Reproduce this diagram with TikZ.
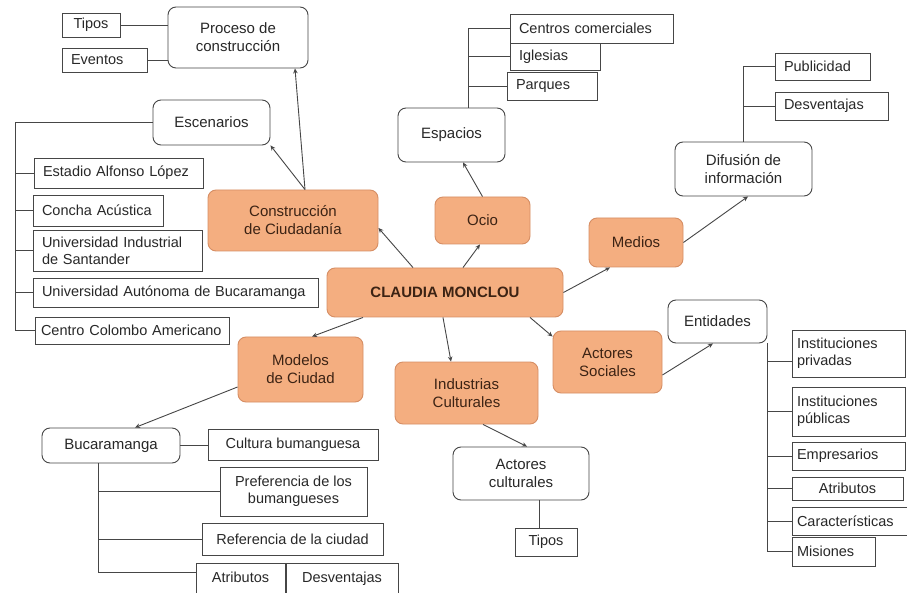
\documentclass[tikz,border=0pt]{standalone}
\usepackage{fontspec}
\setmainfont{Liberation Sans}
\usetikzlibrary{arrows.meta}
\definecolor{orfill}{RGB}{244,174,128}
\definecolor{ordraw}{RGB}{214,142,100}
\definecolor{ortext}{RGB}{60,35,20}
\definecolor{linec}{RGB}{70,70,70}
\definecolor{txt}{RGB}{40,40,40}
\tikzset{
  base/.style={draw=linec, line width=0.9pt, align=center, inner sep=0pt, text=txt},
  rbox/.style={base, rounded corners=8pt, font=\fontsize{15}{18}\selectfont},
  obox/.style={rbox, fill=orfill, draw=ordraw, text=ortext},
  sbox/.style={base, font=\fontsize{14.5}{16.8}\selectfont},
  lbox/.style={sbox, inner xsep=9pt, align=left},
  rlbox/.style={sbox, inner xsep=5pt, align=left},
  conn/.style={draw=linec, line width=0.9pt},
  arr/.style={conn, -{Stealth[length=5pt,width=4.5pt]}},
}
\begin{document}
\begin{tikzpicture}[x=1pt,y=-1pt]
\useasboundingbox (0,0) rectangle (907,593);
\clip (0,0) rectangle (907,593);
\fill[white] (0,0) rectangle (907,593);

% central
\node[obox, minimum width=236pt, minimum height=49pt, font=\fontsize{15}{18}\selectfont\bfseries] (claudia) at (445,292.5) {CLAUDIA MONCLOU};
\node[obox, minimum width=170pt, minimum height=61pt] (construccion) at (293,220.5) {Construcción\\de Ciudadanía};
\node[obox, minimum width=95pt, minimum height=47pt] (ocio) at (482.5,220.5) {Ocio};
\node[obox, minimum width=94pt, minimum height=49pt] (medios) at (636,242.5) {Medios};
\node[obox, minimum width=125pt, minimum height=65pt] (modelos) at (300.5,369.5) {Modelos\\de Ciudad};
\node[obox, minimum width=143pt, minimum height=62pt] (industrias) at (466.5,393) {Industrias\\Culturales};
\node[obox, minimum width=109pt, minimum height=62pt] (actsoc) at (607.5,362) {Actores\\Sociales};

% construccion branch
\node[rbox, minimum width=140pt, minimum height=61pt] (proceso) at (238,37.5) {Proceso de\\construcción};
\node[sbox, minimum width=58pt, minimum height=24pt] (tipos1) at (91,25) {Tipos};
\node[lbox, text width=67pt, minimum height=24pt] (eventos) at (104.5,60) {Eventos};
\node[rbox, minimum width=117pt, minimum height=45pt] (escenarios) at (211.5,122.5) {Escenarios};
\node[lbox, text width=151pt, minimum height=30pt] (estadio) at (118.5,173) {Estadio Alfonso López};
\node[lbox, text width=112pt, minimum height=31pt] (concha) at (98,210.5) {Concha Acústica};
\node[lbox, text width=151pt, minimum height=41pt] (uis) at (117.5,250.5) {Universidad Industrial\\de Santander};
\node[lbox, text width=267pt, minimum height=29pt] (unab) at (175.5,292.5) {Universidad Autónoma de Bucaramanga};
\node[lbox, inner xsep=6pt, text width=182pt, minimum height=27pt] (cca) at (132,330.5) {Centro Colombo Americano};

% ocio branch
\node[rbox, minimum width=107pt, minimum height=54pt] (espacios) at (451.5,135) {Espacios};
\node[lbox, text width=145pt, minimum height=29pt] (centros) at (591.5,28.5) {Centros comerciales};
\node[lbox, text width=72pt, minimum height=27pt] (iglesias) at (555,56.5) {Iglesias};
\node[lbox, text width=72pt, minimum height=28pt] (parques) at (552,86) {Parques};

% medios branch
\node[rbox, minimum width=137pt, minimum height=54pt] (difusion) at (743.5,169) {Difusión de\\información};
\node[lbox, text width=77pt, minimum height=27pt] (publicidad) at (822.5,66.5) {Publicidad};
\node[lbox, text width=95pt, minimum height=28pt] (desv1) at (831.5,106) {Desventajas};

% modelos branch
\node[rbox, minimum width=138pt, minimum height=35pt] (bucaramanga) at (111,445.5) {Bucaramanga};
\node[sbox, minimum width=170pt, minimum height=31pt] (cultura) at (293,444.5) {Cultura bumanguesa};
\node[sbox, minimum width=147pt, minimum height=49pt] (preferencia) at (293.5,491.5) {Preferencia de los\\bumangueses};
\node[sbox, minimum width=181pt, minimum height=32pt] (referencia) at (292.5,539) {Referencia de la ciudad};
\node[sbox, minimum width=89pt, text height=14pt, text depth=25pt, inner ysep=5pt, anchor=base] (atributos1) at (240.5,582) {Atributos};
\node[sbox, minimum width=112pt, text height=14pt, text depth=25pt, inner ysep=5pt, anchor=base] (desv2) at (342,582) {Desventajas};

% industrias branch
\node[rbox, minimum width=136pt, minimum height=53pt] (actcult) at (521,473.5) {Actores\\culturales};
\node[sbox, minimum width=62pt, minimum height=28pt] (tipos2) at (546,542) {Tipos};

% actores sociales branch
\node[rbox, minimum width=99pt, minimum height=43pt] (entidades) at (717.5,321.5) {Entidades};
\node[rlbox, text width=103pt, minimum height=47pt] (instpriv) at (848.5,353.5) {Instituciones\\privadas};
\node[rlbox, text width=103pt, minimum height=49pt] (instpub) at (848.5,411.5) {Instituciones\\públicas};
\node[rlbox, text width=103pt, minimum height=28pt] (empresarios) at (848.5,456) {Empresarios};
\node[sbox, minimum width=111pt, minimum height=23pt] (atributos2) at (847.5,488.5) {Atributos};
\node[rlbox, text width=105pt, minimum height=28pt] (caract) at (849.5,521) {Características};
\node[rlbox, text width=73pt, minimum height=29pt] (misiones) at (833.5,551.5) {Misiones};

% trunk coordinates
\coordinate (escT) at (15,122.5);
\coordinate (espT) at ([xshift=16.5pt]espacios.north);
\coordinate (bucT) at ([xshift=-13pt]bucaramanga.south);

% plain connectors
\draw[conn] (tipos1.east) -- (tipos1.east -| proceso.west);
\draw[conn] (eventos.east) -- (eventos.east -| proceso.west);
\draw[conn] (escenarios.west) -- (escT) |- (cca.west);
\foreach \n in {estadio,concha,uis,unab} \draw[conn] (\n.west) -- (\n.west -| escT);
\draw[conn] (centros.west) -| (espT);
\draw[conn] (iglesias.west) -- (iglesias.west -| espT);
\draw[conn] (parques.west) -- (parques.west -| espT);
\draw[conn] (publicidad.west) -| (difusion.north);
\draw[conn] (desv1.west) -- (desv1.west -| difusion.north);
\draw[conn] (bucaramanga.east) -- (bucaramanga.east -| cultura.west);
\draw[conn] (bucT) |- ([yshift=-10pt]atributos1.north west);
\draw[conn] (preferencia.west) -- (preferencia.west -| bucT);
\draw[conn] (referencia.west) -- (referencia.west -| bucT);
\draw[conn] ([xshift=-7pt]tipos2.north) -- ([xshift=-7pt]tipos2.north |- actcult.south);
\draw[conn] (entidades.south east) |- (misiones.west);
\draw[conn] ([yshift=-8pt]instpriv.west) -- ([yshift=-8pt]instpriv.west -| entidades.south east);
\foreach \n in {instpub,empresarios,atributos2,caract} \draw[conn] (\n.west) -- (\n.west -| entidades.south east);

% arrows
\draw[arr] ([xshift=12pt]construccion.north) -- ([xshift=57pt]proceso.south);
\draw[arr] ([xshift=12pt]construccion.north) -- (escenarios.south east);
\draw[arr] ([xshift=-32pt]claudia.north) -- ([yshift=-7.5pt]construccion.east);
\draw[arr] ([xshift=18pt]claudia.north) -- ([xshift=-2.5pt]ocio.south);
\draw[arr] (ocio.north) -- ([xshift=11.5pt]espacios.south);
\draw[arr] (claudia.east) -- ([xshift=-26pt]medios.south);
\draw[arr] (medios.east) -- ([xshift=4.5pt]difusion.south);
\draw[arr] ([xshift=-82pt]claudia.south) -- ([xshift=11.5pt]modelos.north);
\draw[arr] ([yshift=-17.5pt]modelos.west) -- ([xshift=24pt]bucaramanga.north);
\draw[arr] ([xshift=-2pt]claudia.south) -- ([xshift=-15.5pt]industrias.north);
\draw[arr] ([xshift=16.5pt]industrias.south) -- ([xshift=6pt]actcult.north);
\draw[arr] ([xshift=85pt]claudia.south) -- ([yshift=-6pt]actsoc.north west);
\draw[arr] ([yshift=-13pt]actsoc.east) -- ([xshift=-4.5pt]entidades.south);
\end{tikzpicture}
\end{document}
